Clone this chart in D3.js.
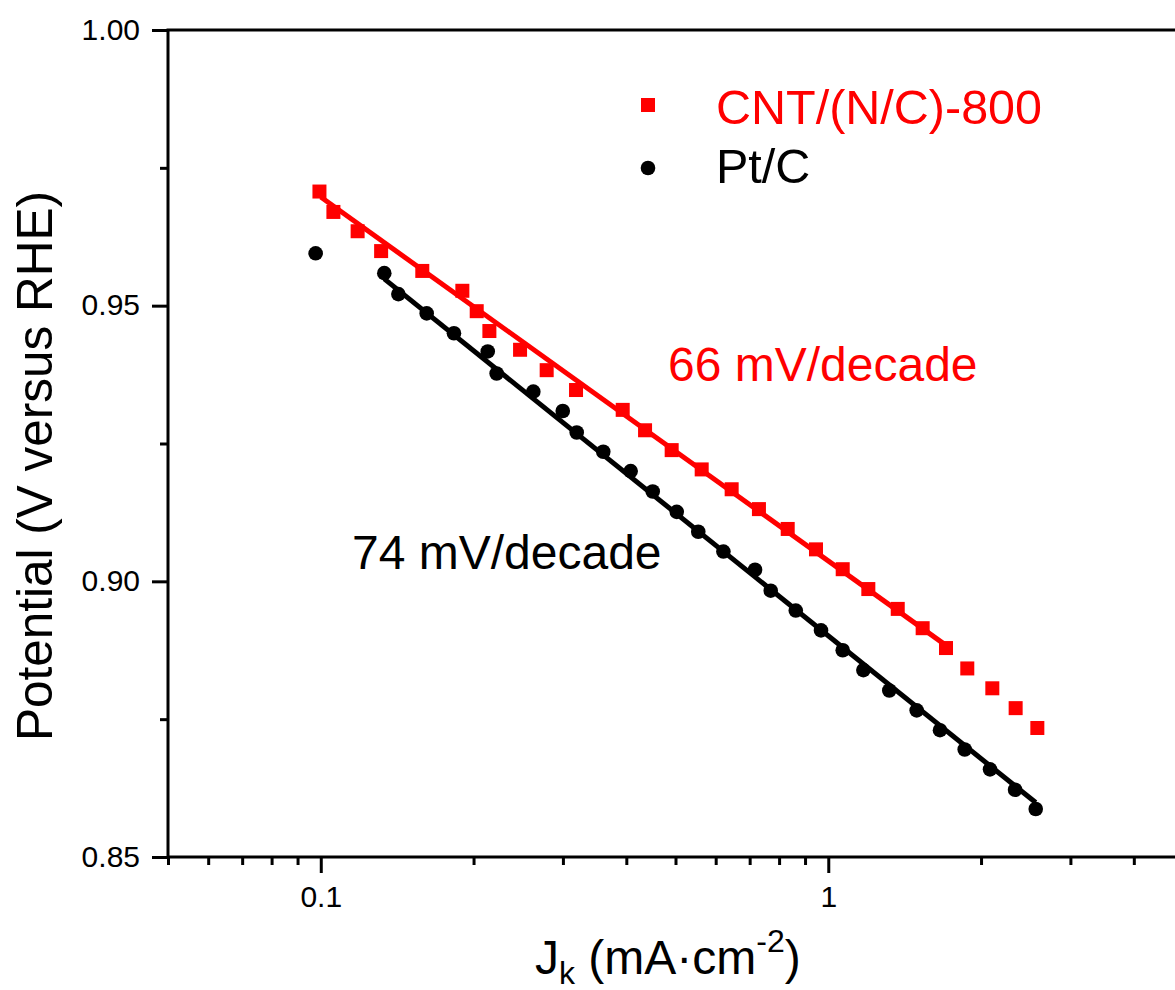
<!DOCTYPE html>
<html>
<head>
<meta charset="utf-8">
<script src="https://cdn.jsdelivr.net/npm/d3@7"></script>
<style>
  html, body { margin: 0; padding: 0; background: #fff; }
  svg { display: block; }
  text { font-family: "Liberation Sans", Arial, Helvetica, sans-serif; }
</style>
</head>
<body>
<svg id="chart" width="1175" height="990"></svg>
<script>
// Kinetic current density (mA cm^-2) and potential (V vs RHE) for each catalyst
const cntJ = [0.0994, 0.1059, 0.1182, 0.1315, 0.1585, 0.1901, 0.2029, 0.2149, 0.2470, 0.2787,
              0.3184, 0.3935, 0.4355, 0.4914, 0.5631, 0.6451, 0.7301, 0.8319, 0.9458, 1.0677,
              1.1993, 1.3705, 1.5346, 1.706, 1.879, 2.105, 2.340, 2.582];
const cntE = [0.9707, 0.9670, 0.9635, 0.9599, 0.9563, 0.9527, 0.9490, 0.9454, 0.9420, 0.9383,
              0.9347, 0.9311, 0.9274, 0.9238, 0.9203, 0.9167, 0.9131, 0.9095, 0.9058, 0.9022,
              0.8986, 0.8950, 0.8915, 0.8879, 0.8842, 0.8806, 0.8770, 0.8734];

const ptJ = [0.0977, 0.1334, 0.1422, 0.1617, 0.1830, 0.2133, 0.2221, 0.2623, 0.2998, 0.3194,
             0.3603, 0.4080, 0.4509, 0.5028, 0.5544, 0.6214, 0.7173, 0.7702, 0.8629, 0.9676,
             1.0677, 1.1726, 1.319, 1.4935, 1.660, 1.857, 2.083, 2.334, 2.563];
const ptE = [0.9595, 0.9559, 0.9521, 0.9486, 0.9450, 0.9417, 0.9377, 0.9344, 0.9309, 0.9270,
             0.9235, 0.9200, 0.9163, 0.9126, 0.9090, 0.9054, 0.9021, 0.8983, 0.8947, 0.8911,
             0.8875, 0.8839, 0.8802, 0.8766, 0.8730, 0.8695, 0.8659, 0.8622, 0.8587];

// Tafel fits: slope (mV/decade), J range of the fit, and a point the fit passes through
const seriesNames = ["CNT/(N/C)-800", "Pt/C"];
const tafelSlopes = [66, 74];
const fitRanges = [[0.1, 1.706], [0.1334, 2.563]];
const fitAnchors = [[0.1, 0.9697], [0.585, 0.90735]];

// Axis ticks
const xMajorTicks = [0.1, 1];
const xMinorTicks = [0.05, 0.06, 0.07, 0.08, 0.09, 0.2, 0.3, 0.4, 0.5, 0.6, 0.7, 0.8, 0.9, 2, 3, 4, 5];
const yMajorTicks = [0.85, 0.90, 0.95, 1.00];
const yMinorTicks = [0.875, 0.925, 0.975];

const RED = "#ff0000", BLACK = "#000000";

const svg = d3.select("#chart");
const plotLeft = 168, plotRight = 1183, plotTop = 30, plotBottom = 857;

const x = d3.scaleLog().domain([0.05, 5]).range([plotLeft, plotRight]);
const y = d3.scaleLinear().domain([0.85, 1.00]).range([plotBottom, plotTop]);

// Frame
svg.append("rect").attr("x", plotLeft).attr("y", plotTop)
  .attr("width", plotRight - plotLeft).attr("height", plotBottom - plotTop)
  .attr("fill", "none").attr("stroke", BLACK).attr("stroke-width", 3);

// Bottom axis (major and minor ticks, labels)
const xAxisMajor = d3.axisBottom(x).tickValues(xMajorTicks).tickSize(16).tickFormat(d3.format("~g"));
const gx = svg.append("g").attr("transform", `translate(0,${plotBottom})`).call(xAxisMajor);
gx.select(".domain").remove();
gx.selectAll(".tick line").attr("stroke", BLACK).attr("stroke-width", 3);
gx.selectAll(".tick text").attr("font-size", 30).attr("fill", BLACK).attr("dy", 0).attr("y", 50);
const xAxisMinor = d3.axisBottom(x).tickValues(xMinorTicks).tickSize(8).tickFormat("");
const gxm = svg.append("g").attr("transform", `translate(0,${plotBottom})`).call(xAxisMinor);
gxm.select(".domain").remove();
gxm.selectAll(".tick line").attr("stroke", BLACK).attr("stroke-width", 3);

// Left axis
const yAxisMajor = d3.axisLeft(y).tickValues(yMajorTicks).tickSize(16).tickFormat(d3.format(".2f"));
const gy = svg.append("g").attr("transform", `translate(${plotLeft},0)`).call(yAxisMajor);
gy.select(".domain").remove();
gy.selectAll(".tick line").attr("stroke", BLACK).attr("stroke-width", 3);
gy.selectAll(".tick text").attr("font-size", 30).attr("fill", BLACK).attr("x", -28).attr("dy", "0.3em");
const yAxisMinor = d3.axisLeft(y).tickValues(yMinorTicks).tickSize(8).tickFormat("");
const gym = svg.append("g").attr("transform", `translate(${plotLeft},0)`).call(yAxisMinor);
gym.select(".domain").remove();
gym.selectAll(".tick line").attr("stroke", BLACK).attr("stroke-width", 3);

// Tafel fit lines, from slope and anchor
const colors = [RED, BLACK];
const fitLine = d3.line().x(d => x(d[0])).y(d => y(d[1]));
tafelSlopes.forEach((s, i) => {
  const [j0, e0] = fitAnchors[i];
  const pts = fitRanges[i].map(j => [j, e0 - (s / 1000) * Math.log10(j / j0)]);
  svg.append("path").attr("d", fitLine(pts)).attr("fill", "none")
    .attr("stroke", colors[i]).attr("stroke-width", 5).attr("stroke-linecap", "butt");
});

// Markers
const cntData = cntJ.map((j, i) => [j, cntE[i]]);
const ptData = ptJ.map((j, i) => [j, ptE[i]]);
const sq = 14;
svg.append("g").selectAll("rect").data(cntData).join("rect")
  .attr("x", d => x(d[0]) - sq / 2).attr("y", d => y(d[1]) - sq / 2)
  .attr("width", sq).attr("height", sq).attr("fill", RED);
svg.append("g").selectAll("circle").data(ptData).join("circle")
  .attr("cx", d => x(d[0])).attr("cy", d => y(d[1])).attr("r", 7.3).attr("fill", BLACK);

// Legend
const lg = svg.append("g");
lg.append("rect").attr("x", 648 - 7).attr("y", 105 - 7).attr("width", 14).attr("height", 14).attr("fill", RED);
lg.append("circle").attr("cx", 648).attr("cy", 168).attr("r", 7.3).attr("fill", BLACK);
lg.append("text").attr("x", 716).attr("y", 124).attr("font-size", 48.5).attr("fill", RED).text(seriesNames[0]);
lg.append("text").attr("x", 716).attr("y", 183).attr("font-size", 48.5).attr("fill", BLACK).text(seriesNames[1]);

// Slope annotations
svg.append("text").attr("x", 668).attr("y", 381).attr("font-size", 48).attr("fill", RED)
  .text(`${tafelSlopes[0]} mV/decade`);
svg.append("text").attr("x", 352).attr("y", 569).attr("font-size", 48).attr("fill", BLACK)
  .text(`${tafelSlopes[1]} mV/decade`);

// Axis titles
svg.append("text").attr("transform", "translate(52,466) rotate(-90)")
  .attr("text-anchor", "middle").attr("font-size", 49.5).attr("fill", BLACK)
  .text("Potential (V versus RHE)");

const xt = svg.append("text").attr("x", 535).attr("y", 974).attr("font-size", 48).attr("fill", BLACK);
xt.append("tspan").text("J");
xt.append("tspan").attr("font-size", 32).attr("dy", 10).text("k");
xt.append("tspan").attr("dy", -10).text(" (mA·cm");
xt.append("tspan").attr("font-size", 32).attr("dy", -22).text("-2");
xt.append("tspan").attr("dy", 22).text(")");
</script>
</body>
</html>
